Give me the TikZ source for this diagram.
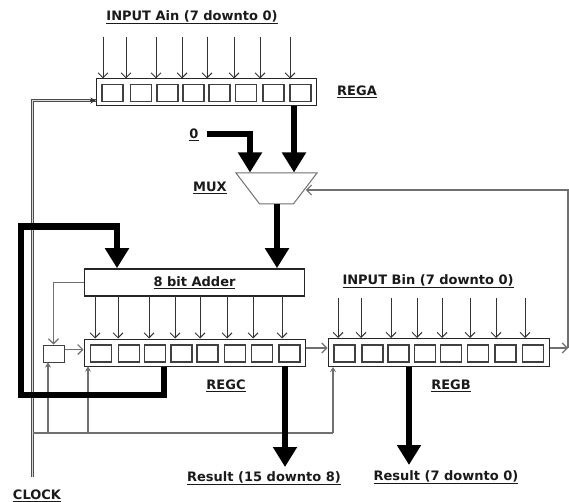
\documentclass[tikz,border=0pt]{standalone}
\usepackage{fontspec}
\setmainfont{DejaVu Sans}
\usepackage{xcolor}
\usetikzlibrary{shapes.geometric, arrows.meta, positioning}
\definecolor{wiregray}{HTML}{707070}
\definecolor{labeltext}{HTML}{1A1A1A}

\begin{document}
\begin{tikzpicture}[
    x=1pt, y=-1pt,
    regbox/.style={draw=black!85, fill=white, line width=1pt, minimum height=27pt, inner sep=0pt},
    cell/.style={draw=black!75, line width=1.1pt, minimum width=21pt, minimum height=17pt, inner sep=0pt},
    lbl/.style={font=\bfseries\fontsize{13}{15}\selectfont, text=labeltext, inner sep=0pt},
    wire/.style={-{Straight Barb[length=5pt, width=10pt]}, line width=1pt, color=black!80},
    fbwire/.style={-{Straight Barb[length=5pt, width=10pt]}, line width=1.1pt, color=wiregray},
    clkline/.style={line width=1.5pt, color=wiregray},
    clkarrow/.style={-{Stealth[length=5pt, width=6pt]}, line width=1.4pt, color=wiregray},
    clkmain/.style={line width=0.6pt, color=black!70, double=black!15, double distance=0.9pt},
    busarrow/.style={-{Triangle[length=20pt, width=23pt]}, line width=6.5pt, color=black}
]
\useasboundingbox (0,0) rectangle (569,502);

\node[regbox, minimum width=220pt] (rega) at (206,92.5) {};
\node[regbox, minimum width=221pt] (regc) at (194.5,352.5) {};
\node[regbox, minimum width=221pt, minimum height=28pt] (regb) at (438.5,352.5) {};
\node[draw=black!85, line width=1.6pt, fill=white, minimum width=220pt, minimum height=27pt, inner sep=0pt, lbl] (adder) at (194.5,282.5) {\underline{8 bit Adder}};
\node[draw=black!75, line width=1pt, minimum width=21pt, minimum height=17pt, inner sep=0pt] (carry) at (53.5,353.5) {};
\node[trapezium, shape border rotate=180, trapezium stretches=true, trapezium left angle=55, trapezium right angle=55, draw=wiregray, line width=1pt, fill=white, minimum width=81pt, minimum height=31pt, inner sep=1pt] (mux) at (276.5,188.5) {};

\foreach \x [count=\i] in {112.5,141,167.5,193.5,219.5,246,273.5,300.5}
    \node[cell] (acell\i) at (\x,93) {};
\foreach \x [count=\i] in {101,129,155,181.5,207.5,235,262,289.5}
    \node[cell] (ccell\i) at (\x,353.5) {};
\foreach \x [count=\i] in {344.5,372.5,398.5,425,451,478,505.5,533}
    \node[cell] (bcell\i) at (\x,353.5) {};

\node[lbl] (ina) at (192,17) {\underline{INPUT Ain (7 downto 0)}};
\node[lbl] (inb) at (428,281) {\underline{INPUT Bin (7 downto 0)}};
\node[lbl] (lrega) at (357,92) {\underline{REGA}};
\node[lbl] (lregc) at (226,386) {\underline{REGC}};
\node[lbl] (lregb) at (451,386) {\underline{REGB}};
\node[lbl] (zero) at (194,135) {\underline{0}};
\node[lbl] (lmux) at (210,188) {\underline{MUX}};
\node[lbl] (resc) at (264,478) {\underline{Result (15 downto 8)}};
\node[lbl] (resb) at (446,477) {\underline{Result (7 downto 0)}};
\node[lbl] (clock) at (37,496) {\underline{CLOCK}};

% data inputs
\foreach \x [count=\i] in {103,126,156,182,207,234,260,290} {
    \coordinate (ia\i) at (\x,37);
    \draw[wire] (ia\i) -- (ia\i |- rega.north);
}
\foreach \x [count=\i] in {338,361,391,417,442,470,496,525} {
    \coordinate (ib\i) at (\x,298);
    \draw[wire] (ib\i) -- (ib\i |- regb.north);
}
\foreach \x [count=\i] in {95,118,149,175,200,227,253,282} {
    \coordinate (ac\i) at (\x,296);
    \draw[wire] (ac\i) -- (ac\i |- regc.north);
}

% clock
\coordinate (clkin) at (32.5,477);
\coordinate (busl) at (32.5,433);
\coordinate (busr) at (333,433);
\coordinate (busm) at (88,433);
\coordinate (busc) at (48,433);
\draw[clkmain] (clkin) |- ([yshift=-8pt]rega.west);
\draw[-{Stealth[length=5pt, width=6pt]}, line width=1pt, color=black!80] ([yshift=-8pt,xshift=-6pt]rega.west) -- ([yshift=-8pt]rega.west);
\draw[clkline] (busl) -- (busr);
\draw[clkarrow] (busr) -- (busr |- regb.south);
\draw[clkarrow] (busm) -- (busm |- regc.south);
\draw[clkarrow] (busc) -- (busc |- carry.south);

% register to register
\coordinate (outb) at (568,348);
\draw[fbwire] (adder.west) -| (carry.north);
\draw[fbwire] ([yshift=4pt]carry.east) -- ([yshift=4pt]carry.east -| regc.west);
\draw[fbwire] (regc.east |- outb) -- (regb.west |- outb);
\draw[fbwire] (regb.east |- outb) -- (outb);
\draw[fbwire] (outb) |- ([yshift=-1.5pt]mux.east);

% wide buses
\coordinate (zstart) at (207,134);
\coordinate (zend) at (250,134);
\coordinate (fbtop) at (21,226.5);
\coordinate (fbbot) at (164,395);
\coordinate (fbadd) at (117,226.5);
\coordinate (aout) at (294,106);
\coordinate (mout) at (277,204);
\coordinate (cout) at (285,366);
\coordinate (bout) at (409,367);
\coordinate (ctip) at (285,467);
\coordinate (btip) at (409,465);
\draw[busarrow] (zstart) -| (zend |- mux.north);
\draw[busarrow] (aout) -- (aout |- mux.north);
\draw[busarrow] (mout) -- (mout |- adder.north);
\draw[busarrow] (fbbot |- regc.south) |- (fbtop |- fbbot) -- (fbtop) -| (fbadd |- adder.north);
\draw[busarrow] (cout) -- (ctip);
\draw[busarrow] (bout) -- (btip);
\end{tikzpicture}
\end{document}
